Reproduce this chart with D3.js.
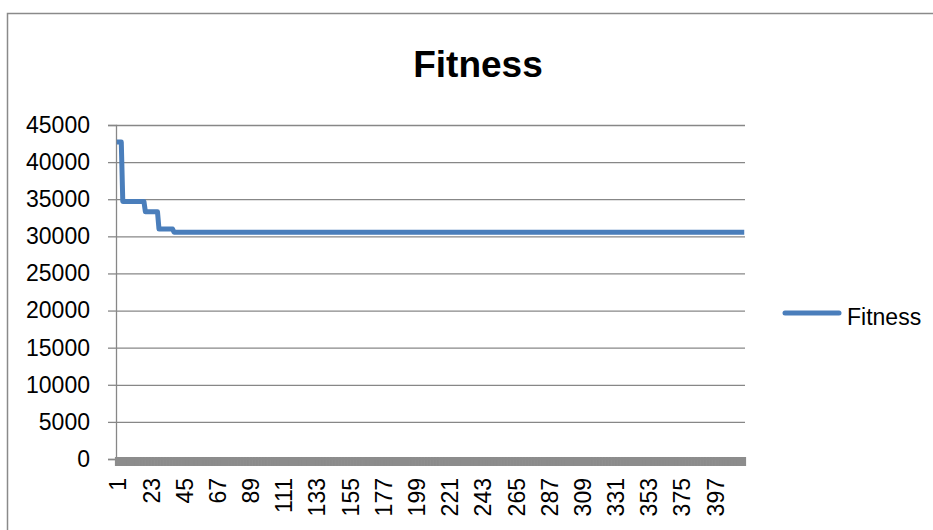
<!DOCTYPE html>
<html>
<head>
<meta charset="utf-8">
<script src="https://cdn.jsdelivr.net/npm/d3@7/dist/d3.min.js"></script>
<style>
  html, body { margin: 0; padding: 0; background: #fff; }
  svg { display: block; }
  text { font-family: "Liberation Sans", Arial, sans-serif; fill: #000; }
</style>
</head>
<body>
<svg id="chart" width="933" height="530"></svg>
<script>
// Best fitness per generation, stored as runs: [value, number of generations]
const fitnessRuns = [
  [42700, 4],
  [34700, 15],
  [33300, 9],
  [31000, 10],
  [30550, 379]
];
const generationCount = 417;
const yTicks = [0, 5000, 10000, 15000, 20000, 25000, 30000, 35000, 40000, 45000];
const xLabelStep = 22;
const seriesName = "Fitness";
const chartTitle = "Fitness";

// expand the runs into one value per generation
const fitness = [];
fitnessRuns.forEach(([v, n]) => { for (let i = 0; i < n; i++) fitness.push(v); });
const generations = d3.range(1, generationCount + 1);
const data = generations.map((g, i) => ({ g, v: fitness[i] }));
const xLabels = generations.filter(g => (g - 1) % xLabelStep === 0);

const svg = d3.select("#chart");
const gridColor = "#878787";
const lineColor = "#4a7ebb";

// outer chart frame
svg.append("rect")
  .attr("x", 7.5).attr("y", 13.5)
  .attr("width", 940).attr("height", 540)
  .attr("fill", "none").attr("stroke", "#8a8a8a").attr("stroke-width", 1.5);

const plot = { left: 116, right: 745, top: 125, bottom: 459 };

const x = d3.scaleBand().domain(generations).range([plot.left, plot.right]).padding(0);
const y = d3.scaleLinear().domain([0, 45000]).range([plot.bottom, plot.top]);

// horizontal gridlines
svg.append("g").selectAll("line").data(yTicks.filter(t => t > 0)).join("line")
  .attr("x1", plot.left).attr("x2", plot.right)
  .attr("y1", d => y(d) + 0.5).attr("y2", d => y(d) + 0.5)
  .attr("stroke", gridColor).attr("stroke-width", 1.3);

// value axis
const yAxis = svg.append("g")
  .attr("transform", `translate(${plot.left},0)`)
  .call(d3.axisLeft(y).tickValues(yTicks).tickSize(8).tickPadding(18).tickFormat(d3.format("d")));
yAxis.select(".domain").attr("stroke", gridColor).attr("stroke-width", 1.3);
yAxis.selectAll(".tick line").attr("stroke", gridColor).attr("stroke-width", 1.3);
yAxis.selectAll(".tick text")
  .style("font-family", '"Liberation Sans", Arial, sans-serif')
  .style("font-size", "23px").attr("fill", "#000");

// category axis: one tick per generation boundary, packed so tightly they form a band
const boundaries = generations.map(g => x(g)).concat([plot.right]);
svg.append("g").selectAll("line").data(boundaries).join("line")
  .attr("x1", d => d).attr("x2", d => d)
  .attr("y1", plot.bottom - 2).attr("y2", plot.bottom + 7)
  .attr("stroke", "#8c8c8c").attr("stroke-width", 2.2);
svg.append("line")
  .attr("x1", plot.left).attr("x2", plot.right)
  .attr("y1", plot.bottom).attr("y2", plot.bottom)
  .attr("stroke", "#8c8c8c").attr("stroke-width", 2);

const xAxis = svg.append("g")
  .attr("transform", `translate(0,${plot.bottom})`)
  .call(d3.axisBottom(x).tickValues(xLabels).tickSize(0));
xAxis.select(".domain").remove();
xAxis.selectAll(".tick text")
  .style("font-family", '"Liberation Sans", Arial, sans-serif')
  .style("font-size", "23px").attr("fill", "#000")
  .attr("transform", "rotate(-90)")
  .attr("text-anchor", "end")
  .attr("x", -19).attr("y", 1.5).attr("dy", "0.35em");

// fitness line
const line = d3.line()
  .x(d => x(d.g) + x.bandwidth() / 2)
  .y(d => y(d.v));
svg.append("path").datum(data)
  .attr("d", line)
  .attr("fill", "none").attr("stroke", lineColor)
  .attr("stroke-width", 5).attr("stroke-linejoin", "round").attr("stroke-linecap", "butt");

// title
svg.append("text")
  .attr("x", 478).attr("y", 77)
  .attr("text-anchor", "middle")
  .style("font-size", "37px").style("font-weight", "bold")
  .text(chartTitle);

// legend
svg.append("line")
  .attr("x1", 785).attr("x2", 839).attr("y1", 313).attr("y2", 313)
  .attr("stroke", lineColor).attr("stroke-width", 5).attr("stroke-linecap", "round");
svg.append("text")
  .attr("x", 847).attr("y", 325)
  .style("font-size", "23px")
  .text(seriesName);
</script>
</body>
</html>
